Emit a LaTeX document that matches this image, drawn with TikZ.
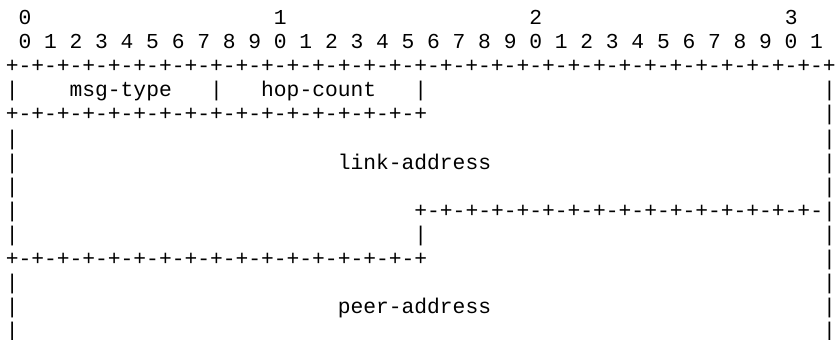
\documentclass[tikz,border=0pt]{standalone}
\usepackage{fontspec}
\newfontfamily\asciifont{Liberation Mono}
\tikzset{cell/.style={anchor=base west, inner sep=0pt, outer sep=0pt, text=black,
  font=\asciifont\fontsize{21.28}{24}\selectfont}}
\newcommand\cellat[4]{\node[cell] (#1) at ({5.8+#2*12.77},{24.5+#3*24.1}) {#4};}
\newcommand\ruleq{+-+-+-+-+-+-+-+-}
\begin{document}
\begin{tikzpicture}[x=1pt,y=-1pt]
\useasboundingbox (0,0) rectangle (836,340);
% row 0
\cellat{r0a}{1}{0}{0}
\cellat{r0b}{21}{0}{1}
\cellat{r0c}{41}{0}{2}
\cellat{r0d}{61}{0}{3}
% row 1
\cellat{r1}{1}{1}{0 1 2 3 4 5 6 7 8 9 0 1 2 3 4 5 6 7 8 9 0 1 2 3 4 5 6 7 8 9 0 1}
% row 2
\cellat{r2}{0}{2}{\ruleq\ruleq\ruleq\ruleq+}
% row 3
\cellat{r3a}{0}{3}{|}
\cellat{msgtype}{5}{3}{msg-type}
\cellat{r3b}{16}{3}{|}
\cellat{hopcount}{20}{3}{hop-count}
\cellat{r3c}{32}{3}{|}
\cellat{r3d}{64}{3}{|}
% row 4
\cellat{r4a}{0}{4}{\ruleq\ruleq+}
\cellat{r4b}{64}{4}{|}
% row 5
\cellat{r5a}{0}{5}{|}
\cellat{r5b}{64}{5}{|}
% row 6
\cellat{r6a}{0}{6}{|}
\cellat{linkaddr}{26}{6}{link-address}
\cellat{r6b}{64}{6}{|}
% row 7
\cellat{r7a}{0}{7}{|}
\cellat{r7b}{64}{7}{|}
% row 8
\cellat{r8a}{0}{8}{|}
\cellat{r8b}{32}{8}{\ruleq\ruleq|}
% row 9
\cellat{r9a}{0}{9}{|}
\cellat{r9b}{32}{9}{|}
\cellat{r9c}{64}{9}{|}
% row 10
\cellat{r10a}{0}{10}{\ruleq\ruleq+}
\cellat{r10b}{64}{10}{|}
% row 11
\cellat{r11a}{0}{11}{|}
\cellat{r11b}{64}{11}{|}
% row 12
\cellat{r12a}{0}{12}{|}
\cellat{peeraddr}{26}{12}{peer-address}
\cellat{r12b}{64}{12}{|}
% row 13
\cellat{r13a}{0}{13}{|}
\cellat{r13b}{64}{13}{|}
\end{tikzpicture}
\end{document}
